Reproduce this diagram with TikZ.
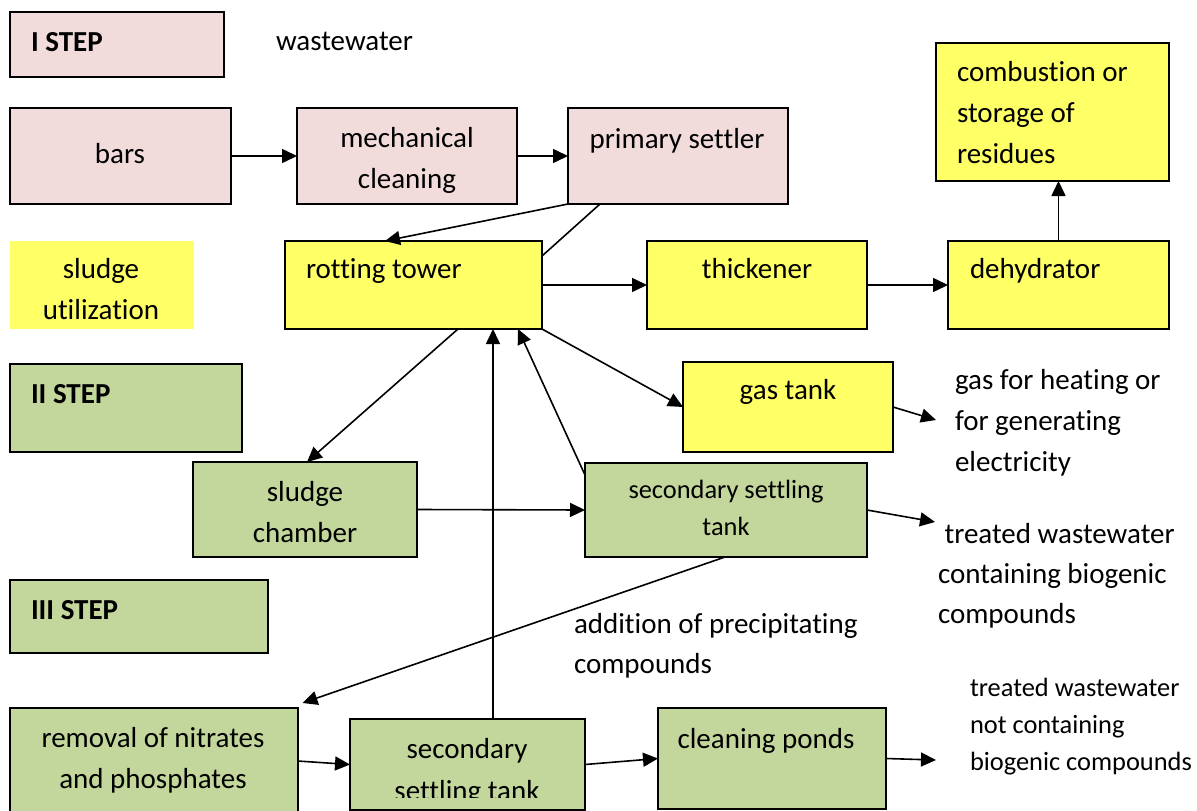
\documentclass[tikz,border=0pt]{standalone}
\usepackage{fontspec}
\setmainfont{Carlito}[Ligatures=NoCommon]
\usetikzlibrary{arrows.meta}
\definecolor{pinkc}{HTML}{F2DCDB}
\definecolor{yelc}{HTML}{FFFF66}
\definecolor{grnc}{HTML}{C3D69B}
\newcommand\fmain{\fontsize{29}{41}\selectfont}
\newcommand\fsmall{\fontsize{26.4}{37}\selectfont}
\newcommand\mlcenter[1]{\vtop{\halign{\hfil##\hfil\cr#1\crcr}}}
\newcommand\mlleft[1]{\vtop{\halign{##\hfil\cr#1\crcr}}}
\begin{document}
\begin{tikzpicture}[x=1pt,y=-1pt,
  box/.style={draw=black, line width=2pt, anchor=north west, inner sep=0pt, outer sep=0pt},
  pinkbox/.style={box, fill=pinkc},
  yelbox/.style={box, fill=yelc},
  grnbox/.style={box, fill=grnc},
  txt/.style={inner sep=0pt, outer sep=0pt, font=\fmain, text=black},
  smalltxt/.style={txt, font=\fsmall},
  conn/.style={line width=1.6pt, draw=black},
  arr/.style={conn, -{Triangle[length=15pt,width=14pt]}}]
\useasboundingbox (0,0) rectangle (1197,811);

% boxes
\node[pinkbox, minimum width=214, minimum height=65] (step1) at (9.5,12) {};
\node[pinkbox, minimum width=221, minimum height=96] (bars) at (9.5,108) {};
\node[pinkbox, minimum width=220, minimum height=96] (mech) at (297,108) {};
\node[pinkbox, minimum width=220, minimum height=96] (primary) at (568,108) {};
\node[yelbox, minimum width=233, minimum height=138] (combust) at (936,43) {};
\node[box, draw=none, fill=yelc, minimum width=184, minimum height=88] (sludgeu) at (9.5,241) {};
\node[yelbox, minimum width=257, minimum height=88] (rotting) at (285,241) {};
\node[yelbox, minimum width=220, minimum height=88] (thick) at (647,241) {};
\node[yelbox, minimum width=221, minimum height=88] (dehyd) at (948,241) {};
\node[grnbox, minimum width=232, minimum height=88] (step2) at (9.5,364) {};
\node[yelbox, minimum width=210, minimum height=90] (gas) at (683,362) {};
\node[grnbox, minimum width=224, minimum height=95] (chamber) at (193,462) {};
\node[grnbox, minimum width=282, minimum height=94] (secmid) at (585,463) {};
\node[grnbox, minimum width=258, minimum height=73] (step3) at (9.5,580) {};
\node[grnbox, minimum width=288, minimum height=106] (rem) at (9.5,708) {};
\node[grnbox, minimum width=235, minimum height=91] (secbot) at (350,719) {};
\node[grnbox, minimum width=228, minimum height=101] (ponds) at (658,708) {};

% texts
\node[txt, anchor=base west, font=\fmain\bfseries] (t-step1) at (31,51) {I STEP};
\node[txt, anchor=base west] (t-waste) at (276,50) {wastewater};
\node[txt, anchor=base] (t-bars) at (120,163) {bars};
\node[txt, anchor=base] (t-mech) at (407,147) {\mlcenter{mechanical\cr cleaning}};
\node[txt, anchor=base] (t-primary) at (677,148) {primary settler};
\node[txt, anchor=base west] (t-combust) at (957,81) {\mlleft{combustion or\cr storage of\cr residues}};
\node[txt, anchor=base] (t-sludgeu) at (101,278) {\mlcenter{sludge\cr utilization}};
\node[txt, anchor=base west] (t-rotting) at (306,278) {rotting tower};
\node[txt, anchor=base] (t-thick) at (757,278) {thickener};
\node[txt, anchor=base west] (t-dehyd) at (970,278) {dehydrator};
\node[txt, anchor=base west, font=\fmain\bfseries] (t-step2) at (31,403) {II STEP};
\node[txt, anchor=base] (t-gas) at (788,399) {gas tank};
\node[txt, anchor=base west] (t-heat) at (955,389) {\mlleft{gas for heating or\cr for generating\cr electricity}};
\node[txt, anchor=base] (t-chamber) at (305,501) {\mlcenter{sludge\cr chamber}};
\node[smalltxt, anchor=base] (t-secmid) at (726,498) {\mlcenter{secondary settling\cr tank}};
\node[txt, anchor=base west, font=\fontsize{29}{40}\selectfont] (t-treat1) at (938,543) {\mlleft{\ treated wastewater\cr containing biogenic\cr compounds}};
\node[txt, anchor=base west, font=\fmain\bfseries] (t-step3) at (31,619) {III STEP};
\node[txt, anchor=base west, font=\fontsize{29}{40}\selectfont] (t-add) at (574,633) {\mlleft{addition of precipitating\cr compounds}};
\node[txt, anchor=base] (t-rem) at (153,747) {\mlcenter{removal of nitrates\cr and phosphates}};
\begin{scope}
\clip (340,700) rectangle (600,797);
\node[txt, anchor=base, font=\fontsize{29}{42}\selectfont] (t-secbot) at (467,758) {\mlcenter{secondary\cr settling tank}};
\end{scope}
\node[txt, anchor=base] (t-ponds) at (766,748) {cleaning ponds};
\node[smalltxt, anchor=base west] (t-treat2) at (970,696) {\mlleft{treated wastewater\cr not containing\cr biogenic compounds}};

% free ends
\coordinate (gasout) at (936,420);
\coordinate (trout) at (935,522);
\coordinate (pondout) at (936,760);

% connectors
\draw[arr] (bars.east) -- (mech.west);
\draw[arr] (mech.east) -- (primary.west);
\draw[arr] (primary.south west) -- ([xshift=100]rotting.north west);
\draw[conn] ([xshift=32]primary.south west) -- ([yshift=-15]rotting.north east);
\draw[arr] (rotting.east) -- (thick.west);
\draw[arr] (thick.east) -- (dehyd.west);
\draw[arr] (dehyd.north) -- (dehyd.north |- combust.south);
\draw[arr] (rotting.south east) -- (gas.west);
\draw[arr] (gas.east) -- (gasout);
\draw[arr] ([xshift=173]rotting.south west) -- ([xshift=114]chamber.north west);
\draw[arr] (chamber.east) -- (secmid.west);
\draw[arr] ([yshift=-12]secmid.north west) -- ([xshift=233]rotting.south west);
\draw[arr] ([xshift=143]secbot.north west) coordinate (vb) -- (vb |- rotting.south);
\draw[arr] ([xshift=140]secmid.south west) -- ([xshift=5,yshift=5]rem.north east);
\draw[arr] (secmid.east) -- (trout);
\draw[arr] (rem.east) -- (secbot.west);
\draw[arr] (secbot.east) -- (ponds.west);
\draw[arr] (ponds.east) -- (pondout);
\end{tikzpicture}
\end{document}
